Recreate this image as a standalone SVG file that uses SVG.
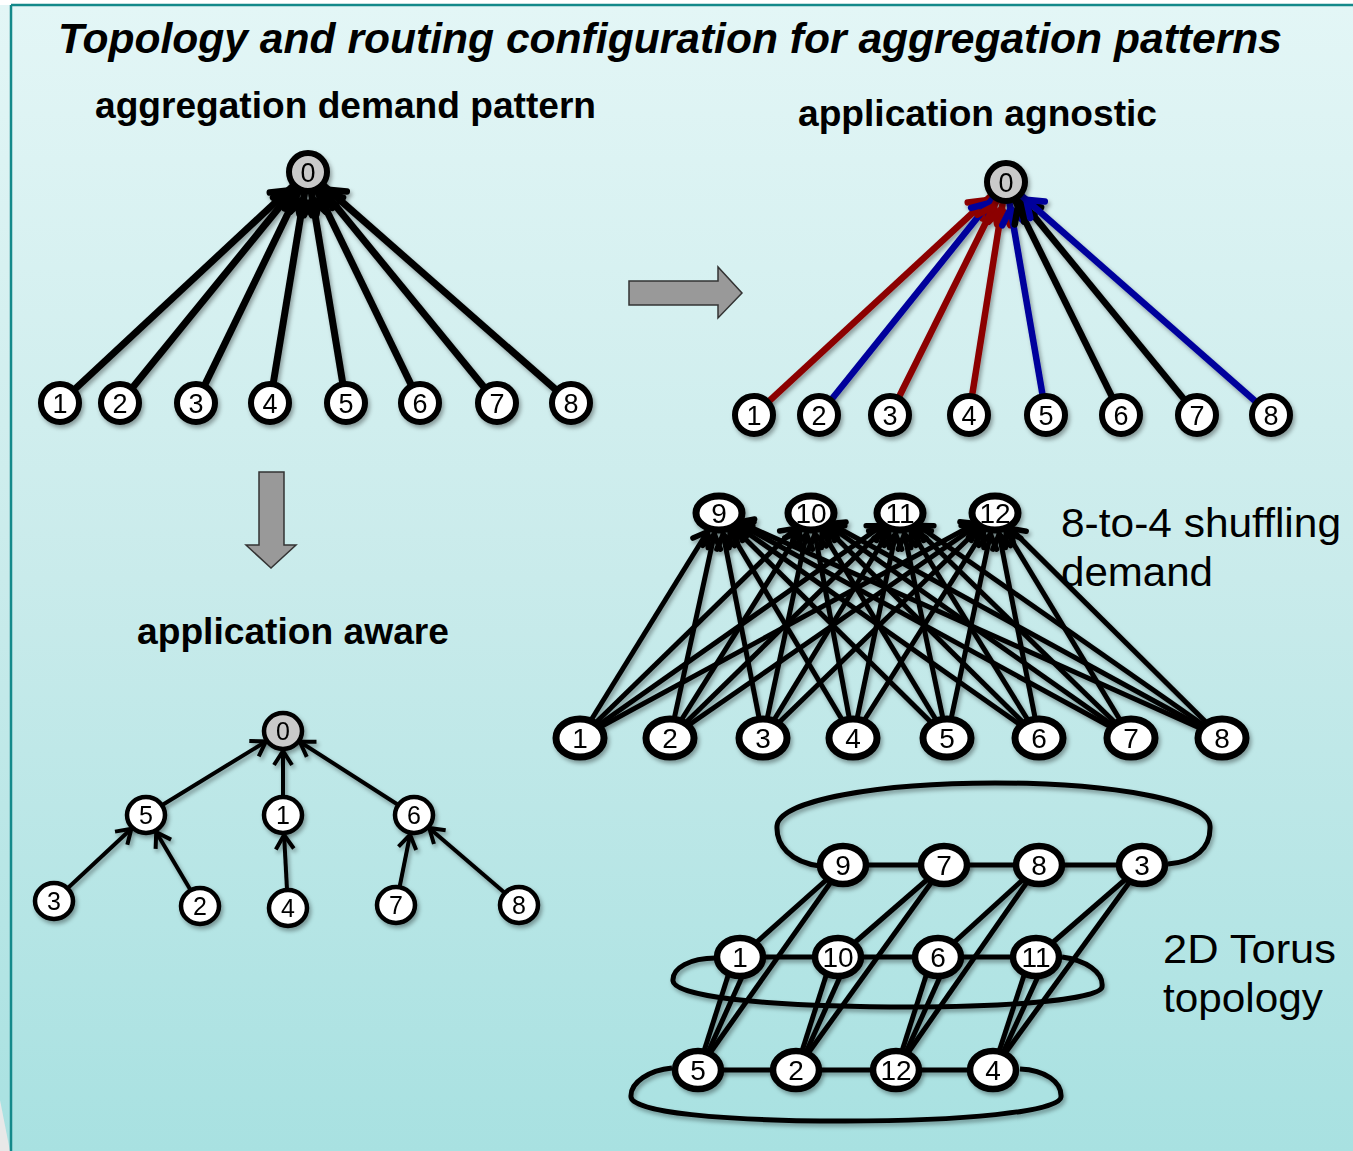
<svg xmlns="http://www.w3.org/2000/svg" width="1353" height="1151" viewBox="0 0 1353 1151">
<defs>
<linearGradient id="bg" x1="0" y1="0" x2="0" y2="1">
<stop offset="0" stop-color="#e3f6f6"/>
<stop offset="0.5" stop-color="#c9ebeb"/>
<stop offset="1" stop-color="#a8e1e1"/>
</linearGradient>
<filter id="sh" x="-40%" y="-40%" width="180%" height="180%">
<feDropShadow dx="2" dy="3" stdDeviation="2" flood-color="#000" flood-opacity="0.35"/>
</filter>
<marker id="aK" markerUnits="userSpaceOnUse" orient="auto" refX="27" refY="0" markerWidth="40" markerHeight="40" style="overflow:visible">
<path d="M-15,-11 L0,0 L-15,11" fill="none" stroke="#000" stroke-width="6.5" stroke-linejoin="round" stroke-linecap="round"/>
</marker>
<marker id="aR" markerUnits="userSpaceOnUse" orient="auto" refX="27" refY="0" markerWidth="40" markerHeight="40" style="overflow:visible">
<path d="M-15,-11 L0,0 L-15,11" fill="none" stroke="#8c0000" stroke-width="6.5" stroke-linejoin="round" stroke-linecap="round"/>
</marker>
<marker id="aU" markerUnits="userSpaceOnUse" orient="auto" refX="27" refY="0" markerWidth="40" markerHeight="40" style="overflow:visible">
<path d="M-15,-11 L0,0 L-15,11" fill="none" stroke="#00009c" stroke-width="6.5" stroke-linejoin="round" stroke-linecap="round"/>
</marker>
<marker id="aS" markerUnits="userSpaceOnUse" orient="auto" refX="22" refY="0" markerWidth="40" markerHeight="40" style="overflow:visible">
<path d="M-13,-9 L0,0 L-13,9" fill="none" stroke="#000" stroke-width="5.5" stroke-linejoin="round" stroke-linecap="round"/>
</marker>
<marker id="aT" markerUnits="userSpaceOnUse" orient="auto" refX="20" refY="0" markerWidth="40" markerHeight="40" style="overflow:visible">
<path d="M-14,-9 L0,0 L-14,9" fill="none" stroke="#000" stroke-width="4" stroke-linejoin="miter" stroke-linecap="butt"/>
</marker>
</defs>
<style>
.ttl{font-family:"Liberation Sans",Arial,sans-serif;font-weight:bold;fill:#000}
.lbl{font-family:"Liberation Sans",Arial,sans-serif;font-size:41px;fill:#000}
.na{fill:#fff;stroke:#000;stroke-width:6}
.nz{fill:#c9c9c9;stroke:#000;stroke-width:6}
.ns{fill:#fff;stroke:#000;stroke-width:7}
.nb{fill:#fff;stroke:#000;stroke-width:4.5}
.nbz{fill:#c9c9c9;stroke:#000;stroke-width:4.5}
.nc{fill:#fff;stroke:#000;stroke-width:6.5}
.da{font-family:"Liberation Sans",Arial,sans-serif;font-size:27px;text-anchor:middle;fill:#000}
.db{font-family:"Liberation Sans",Arial,sans-serif;font-size:25px;text-anchor:middle;fill:#000}
.dc{font-family:"Liberation Sans Narrow","Liberation Sans",Arial,sans-serif;font-size:28px;text-anchor:middle;fill:#000}
.ek{stroke:#000;stroke-width:7;fill:none;marker-end:url(#aK)}
.er{stroke:#8c0000;stroke-width:6.5;fill:none;marker-end:url(#aR)}
.eu{stroke:#00009c;stroke-width:6.5;fill:none;marker-end:url(#aU)}
.ekk{stroke:#000;stroke-width:6.5;fill:none;marker-end:url(#aK)}
.es{stroke:#000;stroke-width:5;fill:none;marker-end:url(#aS)}
.et{stroke:#000;stroke-width:4;fill:none;marker-end:url(#aT)}
.eo{stroke:#000;stroke-width:5;fill:none}
.blk{fill:#999;stroke:#333;stroke-width:1.5}
</style>

<rect x="0" y="0" width="1353" height="1151" fill="#ffffff"/>
<rect x="0" y="5" width="1353" height="1146" fill="url(#bg)"/>
<path d="M0,1100 L10,1151 L0,1151 Z" fill="#e8e8e8"/>
<line x1="11" y1="5" x2="11" y2="1151" stroke="#14898a" stroke-width="2.5"/>
<line x1="11" y1="5" x2="1353" y2="5" stroke="#14898a" stroke-width="2.5"/>

<text class="ttl" x="58" y="53" font-size="42" font-style="italic" textLength="1224" lengthAdjust="spacingAndGlyphs">Topology and routing configuration for aggregation patterns</text>
<text class="ttl" x="95" y="118" font-size="37" textLength="501" lengthAdjust="spacingAndGlyphs">aggregation demand pattern</text>
<text class="ttl" x="798" y="126" font-size="37" textLength="359" lengthAdjust="spacingAndGlyphs">application agnostic</text>
<text class="ttl" x="137" y="644" font-size="37" textLength="312" lengthAdjust="spacingAndGlyphs">application aware</text>
<text class="lbl" x="1061" y="537" textLength="280" lengthAdjust="spacingAndGlyphs">8-to-4 shuffling</text>
<text class="lbl" x="1061" y="586" textLength="152" lengthAdjust="spacingAndGlyphs">demand</text>
<text class="lbl" x="1163" y="963" textLength="173" lengthAdjust="spacingAndGlyphs">2D Torus</text>
<text class="lbl" x="1163" y="1012" textLength="160" lengthAdjust="spacingAndGlyphs">topology</text>

<g id="block-arrows">
<path class="blk" d="M629,281 L718,281 L718,267 L742,293 L718,318 L718,305 L629,305 Z"/>
<path class="blk" d="M259,472 L284,472 L284,545 L296,545 L271,568 L246,545 L259,545 Z"/>
</g>

<g id="connectors">
<g id="edges-demand" filter="url(#sh)">
<line class="ek" x1="60" y1="403" x2="308" y2="172"/>
<line class="ek" x1="120" y1="403" x2="308" y2="172"/>
<line class="ek" x1="196" y1="403" x2="308" y2="172"/>
<line class="ek" x1="270" y1="403" x2="308" y2="172"/>
<line class="ek" x1="346" y1="403" x2="308" y2="172"/>
<line class="ek" x1="420" y1="403" x2="308" y2="172"/>
<line class="ek" x1="497" y1="403" x2="308" y2="172"/>
<line class="ek" x1="571" y1="403" x2="308" y2="172"/>
</g>
<g id="edges-agnostic" filter="url(#sh)">
<line class="er" x1="754" y1="415" x2="1006" y2="182"/>
<line class="eu" x1="819" y1="415" x2="1006" y2="182"/>
<line class="er" x1="890" y1="415" x2="1006" y2="182"/>
<line class="er" x1="969" y1="415" x2="1006" y2="182"/>
<line class="eu" x1="1046" y1="415" x2="1006" y2="182"/>
<line class="ekk" x1="1121" y1="415" x2="1006" y2="182"/>
<line class="ekk" x1="1197" y1="415" x2="1006" y2="182"/>
<line class="eu" x1="1271" y1="415" x2="1006" y2="182"/>
</g>
<g id="edges-aware" filter="url(#sh)">
<line class="et" x1="146" y1="815" x2="283" y2="731"/>
<line class="et" x1="283" y1="815" x2="283" y2="731"/>
<line class="et" x1="414" y1="815" x2="283" y2="731"/>
<line class="et" x1="54" y1="901" x2="146" y2="815"/>
<line class="et" x1="200" y1="906" x2="146" y2="815"/>
<line class="et" x1="288" y1="908" x2="283" y2="815"/>
<line class="et" x1="396" y1="905" x2="414" y2="815"/>
<line class="et" x1="519" y1="905" x2="414" y2="815"/>
</g>
<g id="edges-shuffle" filter="url(#sh)">
<line class="es" x1="580" y1="738" x2="719" y2="513"/>
<line class="es" x1="670" y1="738" x2="719" y2="513"/>
<line class="es" x1="763" y1="738" x2="719" y2="513"/>
<line class="es" x1="853" y1="738" x2="719" y2="513"/>
<line class="es" x1="947" y1="738" x2="719" y2="513"/>
<line class="es" x1="1039" y1="738" x2="719" y2="513"/>
<line class="es" x1="1131" y1="738" x2="719" y2="513"/>
<line class="es" x1="1222" y1="738" x2="719" y2="513"/>
<line class="es" x1="580" y1="738" x2="811" y2="513"/>
<line class="es" x1="670" y1="738" x2="811" y2="513"/>
<line class="es" x1="763" y1="738" x2="811" y2="513"/>
<line class="es" x1="853" y1="738" x2="811" y2="513"/>
<line class="es" x1="947" y1="738" x2="811" y2="513"/>
<line class="es" x1="1039" y1="738" x2="811" y2="513"/>
<line class="es" x1="1131" y1="738" x2="811" y2="513"/>
<line class="es" x1="1222" y1="738" x2="811" y2="513"/>
<line class="es" x1="580" y1="738" x2="900" y2="513"/>
<line class="es" x1="670" y1="738" x2="900" y2="513"/>
<line class="es" x1="763" y1="738" x2="900" y2="513"/>
<line class="es" x1="853" y1="738" x2="900" y2="513"/>
<line class="es" x1="947" y1="738" x2="900" y2="513"/>
<line class="es" x1="1039" y1="738" x2="900" y2="513"/>
<line class="es" x1="1131" y1="738" x2="900" y2="513"/>
<line class="es" x1="1222" y1="738" x2="900" y2="513"/>
<line class="es" x1="580" y1="738" x2="995" y2="513"/>
<line class="es" x1="670" y1="738" x2="995" y2="513"/>
<line class="es" x1="763" y1="738" x2="995" y2="513"/>
<line class="es" x1="853" y1="738" x2="995" y2="513"/>
<line class="es" x1="947" y1="738" x2="995" y2="513"/>
<line class="es" x1="1039" y1="738" x2="995" y2="513"/>
<line class="es" x1="1131" y1="738" x2="995" y2="513"/>
<line class="es" x1="1222" y1="738" x2="995" y2="513"/>
</g>
<g id="edges-torus" filter="url(#sh)">
<path class="eo" d="M820,866 C790,862 776,845 777,826 C779,800 880,783 995,783 C1110,783 1209,800 1210,826 C1211,848 1195,862 1168,864"/>
<path class="eo" d="M716,958 C690,958 672,968 673,981 C674,996 760,1006 890,1007 C1000,1008 1100,1000 1102,987 C1104,972 1085,960 1062,957"/>
<path class="eo" d="M672,1068 C650,1070 630,1082 631,1097 C632,1112 720,1121 845,1121 C960,1121 1060,1112 1061,1097 C1062,1082 1045,1070 1020,1069"/>
<line class="eo" x1="843" y1="865" x2="1142" y2="865"/>
<line class="eo" x1="740" y1="957" x2="1036" y2="957"/>
<line class="eo" x1="698" y1="1070" x2="993" y2="1070"/>
<line class="eo" x1="843" y1="865" x2="740" y2="957"/>
<line class="eo" x1="843" y1="865" x2="698" y2="1070"/>
<line class="eo" x1="734" y1="957" x2="698" y2="1070"/>
<line class="eo" x1="751" y1="957" x2="700" y2="1070"/>
<line class="eo" x1="944" y1="865" x2="838" y2="957"/>
<line class="eo" x1="944" y1="865" x2="796" y2="1070"/>
<line class="eo" x1="832" y1="957" x2="796" y2="1070"/>
<line class="eo" x1="849" y1="957" x2="798" y2="1070"/>
<line class="eo" x1="1039" y1="865" x2="938" y2="957"/>
<line class="eo" x1="1039" y1="865" x2="896" y2="1070"/>
<line class="eo" x1="932" y1="957" x2="896" y2="1070"/>
<line class="eo" x1="949" y1="957" x2="898" y2="1070"/>
<line class="eo" x1="1142" y1="865" x2="1036" y2="957"/>
<line class="eo" x1="1142" y1="865" x2="993" y2="1070"/>
<line class="eo" x1="1030" y1="957" x2="993" y2="1070"/>
<line class="eo" x1="1047" y1="957" x2="995" y2="1070"/>
</g>
</g>

<g id="nodes-demand" filter="url(#sh)">
<g id="d0"><ellipse class="nz" cx="308" cy="172" rx="19" ry="19"/><text class="da" x="308" y="182">0</text></g>
<g id="d1"><ellipse class="na" cx="60" cy="403" rx="19" ry="19"/><text class="da" x="60" y="413">1</text></g>
<g id="d2"><ellipse class="na" cx="120" cy="403" rx="19" ry="19"/><text class="da" x="120" y="413">2</text></g>
<g id="d3"><ellipse class="na" cx="196" cy="403" rx="19" ry="19"/><text class="da" x="196" y="413">3</text></g>
<g id="d4"><ellipse class="na" cx="270" cy="403" rx="19" ry="19"/><text class="da" x="270" y="413">4</text></g>
<g id="d5"><ellipse class="na" cx="346" cy="403" rx="19" ry="19"/><text class="da" x="346" y="413">5</text></g>
<g id="d6"><ellipse class="na" cx="420" cy="403" rx="19" ry="19"/><text class="da" x="420" y="413">6</text></g>
<g id="d7"><ellipse class="na" cx="497" cy="403" rx="19" ry="19"/><text class="da" x="497" y="413">7</text></g>
<g id="d8"><ellipse class="na" cx="571" cy="403" rx="19" ry="19"/><text class="da" x="571" y="413">8</text></g>
</g>

<g id="nodes-agnostic" filter="url(#sh)">
<g id="g0"><ellipse class="nz" cx="1006" cy="182" rx="19" ry="19"/><text class="da" x="1006" y="192">0</text></g>
<g id="g1"><ellipse class="na" cx="754" cy="415" rx="19" ry="19"/><text class="da" x="754" y="425">1</text></g>
<g id="g2"><ellipse class="na" cx="819" cy="415" rx="19" ry="19"/><text class="da" x="819" y="425">2</text></g>
<g id="g3"><ellipse class="na" cx="890" cy="415" rx="19" ry="19"/><text class="da" x="890" y="425">3</text></g>
<g id="g4"><ellipse class="na" cx="969" cy="415" rx="19" ry="19"/><text class="da" x="969" y="425">4</text></g>
<g id="g5"><ellipse class="na" cx="1046" cy="415" rx="19" ry="19"/><text class="da" x="1046" y="425">5</text></g>
<g id="g6"><ellipse class="na" cx="1121" cy="415" rx="19" ry="19"/><text class="da" x="1121" y="425">6</text></g>
<g id="g7"><ellipse class="na" cx="1197" cy="415" rx="19" ry="19"/><text class="da" x="1197" y="425">7</text></g>
<g id="g8"><ellipse class="na" cx="1271" cy="415" rx="19" ry="19"/><text class="da" x="1271" y="425">8</text></g>
</g>

<g id="nodes-aware" filter="url(#sh)">
<g id="w0"><ellipse class="nbz" cx="283" cy="731" rx="19" ry="18"/><text class="db" x="283" y="740">0</text></g>
<g id="w5"><ellipse class="nb" cx="146" cy="815" rx="19" ry="18"/><text class="db" x="146" y="824">5</text></g>
<g id="w1"><ellipse class="nb" cx="283" cy="815" rx="19" ry="18"/><text class="db" x="283" y="824">1</text></g>
<g id="w6"><ellipse class="nb" cx="414" cy="815" rx="19" ry="18"/><text class="db" x="414" y="824">6</text></g>
<g id="w3"><ellipse class="nb" cx="54" cy="901" rx="19" ry="18"/><text class="db" x="54" y="910">3</text></g>
<g id="w2"><ellipse class="nb" cx="200" cy="906" rx="19" ry="18"/><text class="db" x="200" y="915">2</text></g>
<g id="w4"><ellipse class="nb" cx="288" cy="908" rx="19" ry="18"/><text class="db" x="288" y="917">4</text></g>
<g id="w7"><ellipse class="nb" cx="396" cy="905" rx="19" ry="18"/><text class="db" x="396" y="914">7</text></g>
<g id="w8"><ellipse class="nb" cx="519" cy="905" rx="19" ry="18"/><text class="db" x="519" y="914">8</text></g>
</g>

<g id="nodes-shuffle" filter="url(#sh)">
<g id="s9"><ellipse class="ns" cx="719" cy="513" rx="23" ry="17"/><text class="dc" x="719" y="523">9</text></g>
<g id="s10"><ellipse class="ns" cx="811" cy="513" rx="23" ry="17"/><text class="dc" x="811" y="523">10</text></g>
<g id="s11"><ellipse class="ns" cx="900" cy="513" rx="23" ry="17"/><text class="dc" x="900" y="523">11</text></g>
<g id="s12"><ellipse class="ns" cx="995" cy="513" rx="23" ry="17"/><text class="dc" x="995" y="523">12</text></g>
<g id="s1"><ellipse class="ns" cx="580" cy="738" rx="24" ry="19"/><text class="dc" x="580" y="748">1</text></g>
<g id="s2"><ellipse class="ns" cx="670" cy="738" rx="24" ry="19"/><text class="dc" x="670" y="748">2</text></g>
<g id="s3"><ellipse class="ns" cx="763" cy="738" rx="24" ry="19"/><text class="dc" x="763" y="748">3</text></g>
<g id="s4"><ellipse class="ns" cx="853" cy="738" rx="24" ry="19"/><text class="dc" x="853" y="748">4</text></g>
<g id="s5"><ellipse class="ns" cx="947" cy="738" rx="24" ry="19"/><text class="dc" x="947" y="748">5</text></g>
<g id="s6"><ellipse class="ns" cx="1039" cy="738" rx="24" ry="19"/><text class="dc" x="1039" y="748">6</text></g>
<g id="s7"><ellipse class="ns" cx="1131" cy="738" rx="24" ry="19"/><text class="dc" x="1131" y="748">7</text></g>
<g id="s8"><ellipse class="ns" cx="1222" cy="738" rx="24" ry="19"/><text class="dc" x="1222" y="748">8</text></g>
</g>

<g id="nodes-torus" filter="url(#sh)">
<g id="t9"><ellipse class="nc" cx="843" cy="865" rx="23" ry="19"/><text class="dc" x="843" y="875">9</text></g>
<g id="t7"><ellipse class="nc" cx="944" cy="865" rx="23" ry="19"/><text class="dc" x="944" y="875">7</text></g>
<g id="t8"><ellipse class="nc" cx="1039" cy="865" rx="23" ry="19"/><text class="dc" x="1039" y="875">8</text></g>
<g id="t3"><ellipse class="nc" cx="1142" cy="865" rx="23" ry="19"/><text class="dc" x="1142" y="875">3</text></g>
<g id="t1"><ellipse class="nc" cx="740" cy="957" rx="23" ry="19"/><text class="dc" x="740" y="967">1</text></g>
<g id="t10"><ellipse class="nc" cx="838" cy="957" rx="23" ry="19"/><text class="dc" x="838" y="967">10</text></g>
<g id="t6"><ellipse class="nc" cx="938" cy="957" rx="23" ry="19"/><text class="dc" x="938" y="967">6</text></g>
<g id="t11"><ellipse class="nc" cx="1036" cy="957" rx="23" ry="19"/><text class="dc" x="1036" y="967">11</text></g>
<g id="t5"><ellipse class="nc" cx="698" cy="1070" rx="23" ry="19"/><text class="dc" x="698" y="1080">5</text></g>
<g id="t2"><ellipse class="nc" cx="796" cy="1070" rx="23" ry="19"/><text class="dc" x="796" y="1080">2</text></g>
<g id="t12"><ellipse class="nc" cx="896" cy="1070" rx="23" ry="19"/><text class="dc" x="896" y="1080">12</text></g>
<g id="t4"><ellipse class="nc" cx="993" cy="1070" rx="23" ry="19"/><text class="dc" x="993" y="1080">4</text></g>
</g>
</svg>
